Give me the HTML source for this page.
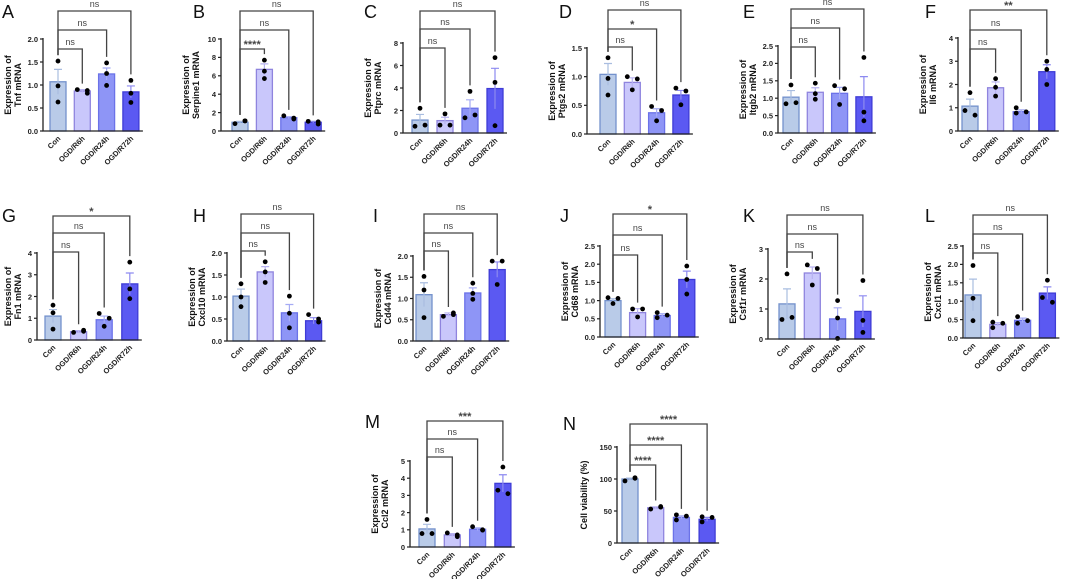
<!DOCTYPE html>
<html><head><meta charset="utf-8"><style>
html,body{margin:0;padding:0;background:#fff;}
svg{display:block;font-family:"Liberation Sans",sans-serif;}
</style></head><body>
<svg id="fig" width="1065" height="579" viewBox="0 0 1065 579"></svg>
<script>
const panelLetters = ["A","B","C","D","E","F","G","H","I","J","K","L","M","N"];
const yTitles = ["Tnf","Serpine1","Ptprc","Ptgs2","Itgb2","Il6","Fn1","Cxcl10","Cd44","Cd68","Csf1r","Cxcl1","Ccl2","VIAB"];
const groups = ["Con","OGD/R6h","OGD/R24h","OGD/R72h"];
const yMaxes = [2,10,8,1.5,2.5,4,4,2,2,2.5,3,2.5,5,150];
const ySteps = [0.5,2,2,0.5,0.5,1,1,0.5,0.5,0.5,1,0.5,1,50];
const means = [
 [1.07,0.87,1.24,0.85],[0.95,6.7,1.45,0.95],[1.15,1.1,2.2,3.95],[1.04,0.9,0.37,0.68],
 [1.03,1.17,1.14,1.04],[1.07,1.86,0.83,2.55],[1.1,0.38,0.93,2.58],[1.02,1.57,0.64,0.46],
 [1.09,0.62,1.13,1.68],[1.0,0.67,0.59,1.58],[1.17,2.2,0.67,0.92],[1.17,0.37,0.48,1.22],
 [1.05,0.7,1.03,3.7],[100,55,40,37]];
const sems = [
 [0.27,0.03,0.13,0.13],[0.1,0.6,0.1,0.1],[0.5,0.3,0.75,1.8],[0.19,0.08,0.07,0.08],
 [0.19,0.13,0.17,0.58],[0.3,0.25,0.08,0.3],[0.3,0.05,0.17,0.5],[0.16,0.12,0.19,0.07],
 [0.28,0.04,0.12,0.18],[0.05,0.11,0.05,0.23],[0.5,0.2,0.37,0.52],[0.43,0.05,0.06,0.17],
 [0.27,0.08,0.08,0.5],[1.5,1.5,2.5,3]];
const points = [
 [[1.52,0.98,0.63],[0.9,0.82,0.88],[1.48,1.25,0.99],[1.1,0.82,0.62]],
 [[0.8,1.1,1.1],[7.7,6.5,5.7],[1.65,1.4,1.3],[1.05,0.75,1.0]],
 [[2.2,0.6,0.7],[1.7,0.7,0.7],[3.7,1.35,1.6],[6.7,4.5,0.65]],
 [[1.33,0.97,0.68],[1.0,0.96,0.77],[0.48,0.41,0.23],[0.8,0.75,0.51]],
 [[1.38,0.84,0.87],[1.43,1.13,0.97],[1.36,1.27,0.82],[2.17,0.6,0.35]],
 [[1.65,0.88,0.68],[2.25,1.88,1.5],[1.0,0.77,0.82],[3.0,2.65,2.0]],
 [[1.6,1.25,0.5],[0.35,0.45,0.4],[1.22,1.0,0.63],[3.58,2.35,1.9]],
 [[1.3,1.0,0.78],[1.8,1.57,1.33],[1.02,0.63,0.3],[0.6,0.5,0.43]],
 [[1.52,1.2,0.55],[0.58,0.66,0.62],[1.36,1.12,0.98],[1.88,1.88,1.33]],
 [[1.08,0.92,1.06],[0.77,0.55,0.77],[0.53,0.67,0.6],[1.95,1.58,1.18]],
 [[2.17,0.65,0.72],[2.47,2.35,1.8],[1.28,0.7,0.02],[1.95,0.62,0.22]],
 [[1.97,1.08,0.47],[0.43,0.28,0.4],[0.58,0.4,0.47],[1.57,1.1,0.97]],
 [[1.6,0.78,0.78],[0.82,0.6,0.7],[1.18,0.98,1.0],[4.65,3.3,3.1]],
 [[97,102,101],[53,57,56],[44,36,42],[41,33,40]]];
const sigLabels = [
 ["ns","ns","ns"],["****","ns","ns"],["ns","ns","ns"],["ns","*","ns"],["ns","ns","ns"],["ns","ns","**"],
 ["ns","ns","*"],["ns","ns","ns"],["ns","ns","ns"],["ns","ns","*"],["ns","ns","ns"],["ns","ns","ns"],
 ["ns","ns","***"],["****","****","****"]];

const layout = [
 [43,39,131,58,24.3,2,18,[49,30,11]],
 [221,39,131,240,24.4,193,18,[49,30,11]],
 [403,43,133,420,25,364,18,[48,29,11]],
 [587,48,134,608,24.3,559,18,[47,29,10]],
 [778,46,133,791,24.3,743,18,[47,28,9]],
 [958,38,131,970,25.6,925,18,[49,30,10]],
 [37,253,340,53,25.6,2,222,[252,233,216]],
 [227,253,341,241,24.2,193,222,[251,233,214]],
 [413,256,341,424,24.4,373,222,[251,233,214]],
 [600,246,337,613,24.6,560,222,[255,235,214]],
 [768,249,339,787,25.3,743,222,[252,234,215]],
 [963,246,338,973,24.8,925,222,[253,234,215]]
];
layout.push([410,461,547,427,25.3,365,428,[457,439,421]]);
layout.push([617,447,543,630,25.7,563,430,[465,445,424]]);

const fills = ["#b9cbe8","#c9c7fb","#8e95f6","#5b59f2"];
const strokes = ["#7391cc","#8f84de","#6b72e8","#3f3cd6"];
const errCols = ["#a9bde0","#b7b2f0","#a5abf4","#8d8af0"];

const NS = "http://www.w3.org/2000/svg";
const svg = document.getElementById("fig");
function mk(tag, attrs, parent){
  const e = document.createElementNS(NS, tag);
  for (const k in attrs) e.setAttribute(k, attrs[k]);
  (parent||svg).appendChild(e);
  return e;
}
function fmt(v, step){ return step < 1 ? v.toFixed(1) : String(Math.round(v)); }

for (let p = 0; p < panelLetters.length; p++){
  const [ax, top, bot, fb, sp, lx, ly, bys] = layout[p];
  const yMax = yMaxes[p], step = ySteps[p];
  const y = v => bot - (v / yMax) * (bot - top);
  const x = i => fb + i * sp;
  const g = mk("g", {});
  
  

  const lt = mk("text", {x: lx, y: ly, "font-size": 18, fill: "#111"}, g);
  
  
  lt.textContent = panelLetters[p];

  const cy = (top + bot) / 2;
  const tx = Math.max(ax - 31, 12);
  const yt = mk("text", {transform: `translate(${tx},${cy}) rotate(-90)`, "font-size": 9, "font-weight": "bold", fill: "#111", "text-anchor": "middle"}, g);
  
  
  if (yTitles[p] === "VIAB"){
    yt.setAttribute("transform", `translate(${ax-30},${cy}) rotate(-90)`);
    yt.textContent = "Cell viability (%)";
  } else {
    const t1 = mk("tspan", {x: 0, dy: -1}, yt); t1.textContent = "Expression of";
    const t2 = mk("tspan", {x: 0, dy: 10}, yt); t2.textContent = yTitles[p] + " mRNA";
  }

  for (let i = 0; i < 4; i++){
    const b = mk("rect", {x: x(i) - 8, y: y(means[p][i]), width: 16, height: bot - y(means[p][i]), fill: fills[i], stroke: strokes[i], "stroke-width": 1.3}, g);
    
    
    const hi = y(means[p][i] + sems[p][i]), lo = y(Math.max(0, means[p][i] - sems[p][i]));
    const eb = mk("path", {d: `M${x(i)},${lo}V${hi}M${x(i)-4},${hi}H${x(i)+4}`, stroke: errCols[i], "stroke-width": 1.2, fill: "none"}, g);
    
    
    const pts = points[p][i];
    for (let k = 0; k < pts.length; k++){
      let dx = 0;
      for (let m = 0; m < pts.length; m++){
        if (m !== k && Math.abs(y(pts[m]) - y(pts[k])) < 5) { dx = (k < m) ? -5 : 5; break; }
      }
      const c = mk("circle", {cx: x(i) + dx, cy: y(pts[k]), r: 2.4, fill: "#000"}, g);
      
      
    }
    const xl = mk("text", {transform: `translate(${x(i)+3},${bot+8}) rotate(-45)`, "font-size": 7.5, "font-weight": "bold", fill: "#222", "text-anchor": "end"}, g);
    
    
    xl.textContent = groups[i];
  }

  const axl = mk("path", {d: `M${ax},${top-1}V${bot}H${x(3)+12}`, stroke: "#222", "stroke-width": 1.3, fill: "none"}, g);
  
  
  for (let v = 0; v <= yMax + 1e-9; v += step){
    mk("line", {x1: ax - 3, x2: ax, y1: y(v), y2: y(v), stroke: "#222", "stroke-width": 1.2}, g);
    const tl = mk("text", {x: ax - 5, y: y(v) + 2.8, "font-size": 7.5, "font-weight": "bold", fill: "#222", "text-anchor": "end"}, g);
    
    
    tl.textContent = fmt(v, step);
  }

  const topOf = i => Math.min(y(means[p][i] + sems[p][i]), ...points[p][i].map(y)) - 6;
  for (let j = 0; j < 3; j++){
    const by = bys[j];
    const br = mk("path", {d: `M${x(0)},${topOf(0)}V${by}H${x(j+1)}V${topOf(j+1)}`, stroke: "#444", "stroke-width": 1.3, fill: "none"}, g);
    
    
    const s = sigLabels[p][j];
    const st = mk("text", {x: (x(0) + x(j+1)) / 2, y: s === "ns" ? by - 4 : by - 1, "font-size": s === "ns" ? 9 : 11, "font-weight": s === "ns" ? "normal" : "bold", fill: "#444", "text-anchor": "middle"}, g);
    
    
    st.textContent = s;
  }
}
</script>
</body></html>
